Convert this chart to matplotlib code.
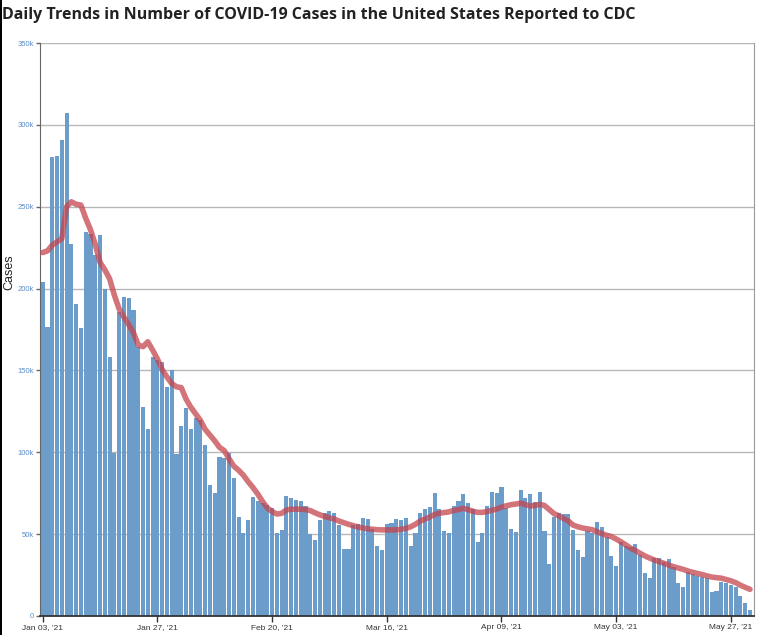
import numpy as np
import pandas as pd
import matplotlib
matplotlib.use("Agg")
import matplotlib.pyplot as plt
from matplotlib.patches import Rectangle
from matplotlib.ticker import FuncFormatter

# daily cases (thousands), Jan 03 2021 .. May 31 2021
cases_k = [
    204.3, 176.8, 280.4, 280.8, 290.5, 307.3, 227.0, 190.3, 175.8, 234.5,
    233.5, 220.6, 232.9, 199.8, 158.5, 99.8, 185.6, 195.0, 194.0, 187.0,
    164.6, 127.6, 114.5, 158.1, 156.5, 155.1, 139.6, 150.4, 99.0, 116.3,
    127.3, 114.5, 121.2, 120.0, 104.3, 80.3, 75.0, 97.0, 96.3, 99.4,
    84.3, 60.7, 50.5, 58.7, 72.5, 70.0, 69.0, 68.0, 66.0, 50.5,
    52.5, 73.0, 72.0, 71.0, 70.0, 67.0, 50.1, 46.2, 58.7, 63.1,
    64.4, 63.1, 55.6, 40.9, 40.7, 55.5, 56.5, 59.7, 59.1, 53.0,
    42.8, 40.3, 56.2, 57.0, 59.1, 58.7, 59.7, 42.8, 50.5, 62.7,
    65.4, 66.4, 75.4, 65.2, 52.1, 50.9, 67.4, 70.1, 74.6, 69.3,
    65.5, 45.2, 50.9, 67.2, 75.6, 75.4, 79.0, 66.0, 53.0, 51.1,
    77.0, 71.9, 74.4, 69.9, 75.6, 52.0, 31.6, 60.7, 62.7, 62.3,
    62.1, 52.6, 40.3, 36.3, 51.9, 50.5, 57.6, 54.6, 48.0, 36.7,
    30.6, 45.4, 42.8, 42.0, 44.0, 37.3, 26.1, 23.4, 35.2, 35.2,
    33.2, 34.6, 30.1, 20.4, 17.9, 27.1, 25.7, 24.4, 23.6, 23.0,
    14.9, 15.5, 21.0, 20.0, 18.9, 17.9, 12.2, 7.7, 3.7,
]

# 7-day average line (thousands)
avg7_k = [
    222, 223, 226.5, 228.5, 230.5, 250, 253, 251.5, 251, 243,
    236, 227, 216, 211.5, 206, 196, 187.5, 182.5, 178, 173,
    165.5, 164.5, 167.5, 162.5, 157, 150.5, 146, 142, 140, 139.5,
    132.5, 127.5, 123.5, 119.5, 114, 110.5, 107, 103, 101, 96,
    91.5, 89, 86, 82, 78.5, 74.5, 70, 66, 63.8, 62.3,
    62.7, 64.8, 65.2, 65.3, 65.2, 65, 64.4, 63, 61.8, 60.8,
    60, 59.2, 58, 57, 56, 55.2, 54.3, 53.8, 53.2, 53,
    52.7, 52.6, 52.6, 52.6, 52.6, 53, 53.5, 54.5, 56, 58,
    59.2, 60.5, 62, 62.8, 63.2, 63.6, 64.5, 65, 65.8, 65,
    64, 63.3, 63.3, 63.8, 64.6, 65.3, 66.5, 67.3, 68, 68.4,
    68.9, 68, 67.2, 67.5, 68.2, 67.5, 65, 62.5, 61.2, 59.5,
    58, 55.5, 54.5, 53.7, 53.2, 52.7, 51.5, 50.3, 49.3, 48.5,
    47, 45.3, 43.5, 41.5, 40, 38.3, 36.7, 35.4, 34.2, 33.2,
    32.2, 31.1, 30.1, 29.3, 28.5, 27.5, 26.7, 26, 25.3, 24.5,
    23.8, 23.4, 23.1, 22.3, 21.5, 20.4, 18.8, 17.5, 16.3,
]

start_date = "2021-01-03"
title = "Daily Trends in Number of COVID-19 Cases in the United States Reported to CDC"

cases = np.array(cases_k) * 1000
avg7 = np.array(avg7_k) * 1000
dates = pd.date_range(start_date, periods=len(cases), freq="D")
x = np.arange(len(cases))

W, H = 771, 635
fig = plt.figure(figsize=(W / 100, H / 100), dpi=100)
ax = fig.add_axes([40 / W, 1 - 616 / H, 714 / W, (616 - 43) / H])

ax.bar(x, cases, width=0.86, color="#6c9dca", zorder=2)
ax.plot(x, avg7, color="#c4454d", lw=4.0, alpha=0.75, zorder=4,
        solid_capstyle="round", solid_joinstyle="round")

ax.set_xlim(-0.56, len(cases) - 0.16)
ax.set_ylim(0, 350000)
ax.set_yticks(np.arange(0, 350001, 50000))
ax.yaxis.set_major_formatter(FuncFormatter(lambda v, p: "0" if v == 0 else f"{int(v / 1000)}k"))
ax.grid(axis="y", color="#888888", alpha=0.6, lw=1, zorder=3)
ax.grid(axis="x", visible=False)

tick_idx = x[::24]
ax.set_xticks(tick_idx)
ax.set_xticklabels([d.strftime("%b %d, '%y") for d in dates[::24]],
                   fontsize=6, family="Liberation Sans", color="#333333")
ax.tick_params(axis="x", length=4, width=1, color="#333333", pad=1.5)
ax.tick_params(axis="y", length=3, width=1, color="#666666", pad=1.5,
               labelsize=5.5, labelcolor="#5a8dc8")
for lab in ax.get_yticklabels():
    lab.set_family("Liberation Sans")

ax.spines["top"].set_visible(False)
ax.spines["left"].set_color("#666666")
ax.spines["bottom"].set_color("#333333")
ax.spines["bottom"].set_linewidth(1.3)
ax.spines["right"].set_color("#999999")

ax.set_ylabel("Cases", fontsize=9, family="Liberation Sans", color="#222222")
ax.yaxis.set_label_coords(-0.034, 0.60)

fig.text(2 / W, 1 - 15 / H, title, fontsize=11.5, fontweight="bold",
         family="Open Sans", color="#222222", va="center", ha="left")

# dark screenshot edge on the left
fig.add_artist(Rectangle((0, 0), 2 / W, 1, transform=fig.transFigure,
                         color="black", lw=0))

fig.savefig("out.png", dpi=100)
